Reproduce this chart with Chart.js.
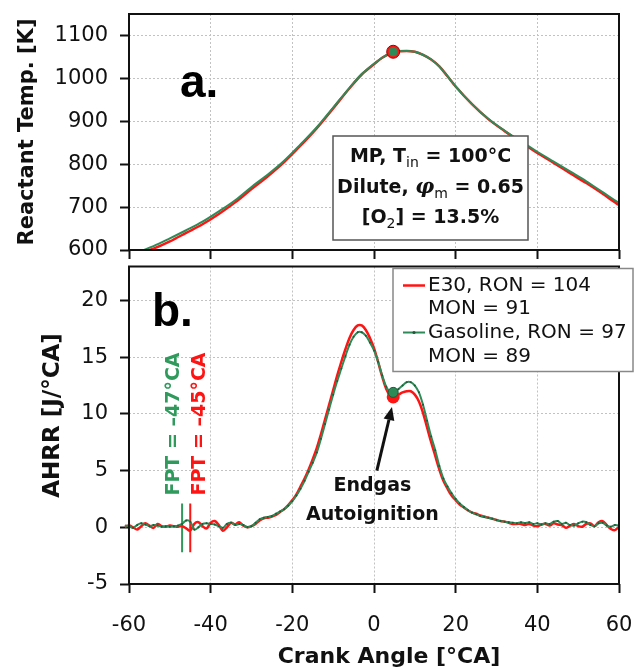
<!DOCTYPE html>
<html>
<head>
<meta charset="utf-8">
<script src="https://cdn.jsdelivr.net/npm/chart.js@4.4.1/dist/chart.umd.min.js"></script>
<style>
  html, body { margin: 0; padding: 0; background: #fff; }
  #wrap { position: relative; width: 640px; height: 671px; }
  .panel { position: absolute; left: 0; width: 640px; }
  #top { top: 0; height: 260px; }
  #bot { top: 260px; height: 411px; }
</style>
</head>
<body>
<div id="wrap">
  <div class="panel" id="top"><canvas id="tempChart" width="640" height="260"></canvas></div>
  <div class="panel" id="bot"><canvas id="ahrrChart" width="640" height="411"></canvas></div>
</div>
<script>
// Values (crank angle in °CA)

// a. reactant temperature [K]
const tempCA = [-57, -54, -50, -46, -42, -38, -34, -30, -26, -22,
  -18, -14, -10, -6, -3, 0, 2, 4, 6, 8,
  10, 12, 14, 16, 18, 20, 24, 28, 32, 36,
  40, 44, 48, 52, 56, 60, 61];
const tempE30 = [593, 603, 620, 640, 660, 684, 711, 742, 772, 805,
  843, 884, 930, 977, 1009, 1033, 1048, 1058, 1063, 1064,
  1062, 1055, 1044, 1028, 1005, 981, 940, 905, 877, 851,
  826, 803, 779, 756, 731, 705, 700];
const tempGas = [598, 609, 627, 646, 666, 690, 716, 747, 776, 808,
  846, 886, 932, 978, 1010, 1034, 1048, 1058, 1063, 1064,
  1062, 1055, 1044, 1028, 1005, 981, 940, 906, 878, 853,
  829, 806, 783, 760, 735, 710, 705];

// b. apparent heat release rate [J/°CA]
const ahrrCA = [-61,
  -60, -59, -58, -57, -56, -55, -54, -53, -52, -51,
  -50, -49, -48, -47, -46, -45, -44, -43, -42, -41,
  -40, -39, -38, -37, -36, -35, -34, -33, -32, -31,
  -30, -29, -28, -27, -26, -25, -24, -23, -22, -21,
  -20, -19, -18, -17, -16, -15, -14, -13, -12, -11,
  -10, -9, -8, -7, -6, -5, -4, -3, -2, -1,
  0, 1, 2, 3, 4, 5, 6, 7, 8, 9,
  10, 11, 12, 13, 14, 15, 16, 17, 18, 19,
  20, 21, 22, 23, 24, 25, 26, 27, 28, 29,
  30, 31, 32, 33, 34, 35, 36, 37, 38, 39,
  40, 41, 42, 43, 44, 45, 46, 47, 48, 49,
  50, 51, 52, 53, 54, 55, 56, 57, 58, 59,
  60, 61];
const ahrrE30 = [0.05,
  0.15, 0.0, -0.2, 0.1, 0.35, 0.15, -0.05, 0.3, 0.1, 0.05,
  0.15, 0.1, 0.05, 0.1, -0.1, -0.3, 0.3, 0.45, 0.1, -0.1,
  0.4, 0.55, 0.2, -0.3, 0.0, 0.4, 0.25, 0.45, 0.15, 0.0,
  0.1, 0.3, 0.6, 0.8, 0.85, 0.95, 1.1, 1.35, 1.6, 1.95,
  2.4, 2.9, 3.6, 4.3, 5.1, 6.0, 7.0, 8.2, 9.5, 10.8,
  12.1, 13.4, 14.6, 15.7, 16.7, 17.4, 17.8, 17.8, 17.4, 16.7,
  15.8, 14.6, 13.3, 12.2, 11.6, 11.5, 11.7, 11.9, 12.0, 12.0,
  11.7, 11.1, 10.1, 8.8, 7.5, 6.3, 5.1, 4.1, 3.4, 2.8,
  2.4, 2.0, 1.75, 1.5, 1.3, 1.2, 1.05, 0.95, 0.85, 0.75,
  0.65, 0.55, 0.5, 0.4, 0.3, 0.3, 0.3, 0.2, 0.3, 0.15,
  0.1, 0.25, 0.3, 0.15, 0.35, 0.25, 0.2, -0.05, 0.15, 0.3,
  0.1, 0.05, 0.3, 0.35, 0.1, 0.45, 0.55, 0.2, -0.15, -0.25,
  0.0, -0.1];
const ahrrGas = [0.15,
  0.1, -0.05, 0.2, 0.35, 0.25, 0.1, 0.2, 0.15, 0.05, 0.1,
  0.05, 0.1, 0.15, 0.3, 0.6, 0.5, -0.2, 0.0, 0.3, 0.35,
  0.3, 0.25, 0.1, -0.05, 0.3, 0.4, 0.2, 0.3, 0.2, 0.0,
  0.1, 0.4, 0.7, 0.85, 0.9, 1.0, 1.2, 1.4, 1.6, 1.9,
  2.3, 2.8, 3.4, 4.1, 4.9, 5.7, 6.6, 7.8, 9.1, 10.4,
  11.7, 12.9, 14.0, 15.1, 16.1, 16.8, 17.2, 17.2, 16.9, 16.3,
  15.6, 14.6, 13.4, 12.4, 11.9, 11.9, 12.2, 12.5, 12.8, 12.8,
  12.5, 11.9, 10.8, 9.4, 8.0, 6.8, 5.4, 4.3, 3.6, 3.0,
  2.5, 2.1, 1.8, 1.5, 1.3, 1.15, 1.0, 0.9, 0.85, 0.75,
  0.65, 0.55, 0.5, 0.45, 0.4, 0.35, 0.45, 0.35, 0.45, 0.3,
  0.35, 0.25, 0.35, 0.3, 0.5, 0.55, 0.3, 0.4, 0.2, 0.15,
  0.35, 0.5, 0.45, 0.2, 0.1, 0.35, 0.4, 0.15, 0.05, 0.2,
  0.15, 0.25];

// markers: peak temperature and endgas autoignition point
const peakCA = [4.7];
const peakTempE30 = [1062];
const peakTempGas = [1062];
const endgasCA = [4.7];
const endgasE30 = [11.5];
const endgasGas = [11.9];

// first phenomenological timing (FPT) bars: [E30, gasoline]
const fptCA = [-45, -47];
const fptSpan = [-2.2, 2.1];

const legendE30 = ['E30, RON = 104', 'MON = 91'];
const legendGas = ['Gasoline, RON = 97', 'MON = 89'];

const RED = '#ff1414';
const GREEN = '#2e8b57';
const GREEN_TXT = '#2f9a5c';
const FONT = '"DejaVu Sans", sans-serif';

const pts = (xs, ys) => xs.map((x, i) => ({ x: x, y: ys[i] }));

// shared axis styling
const gridOpts = {
  color: '#c2c2c2',
  lineWidth: 1,
  tickColor: '#111',
  tickWidth: 2,
  tickLength: 9,
  tickBorderDash: []
};
const borderOpts = { display: false, dash: [2, 2] };
const tickFont = { family: FONT, size: 21 };
const titleFont = { family: FONT, size: 21, weight: 'bold' };

// fixed axis boxes so the plot areas land where the reference has them
const fitY = (s) => { s.width = 129; s.paddingTop = 0; s.paddingBottom = 0; };
const fitX = (h) => (s) => { s.height = h; s.paddingLeft = 0; s.paddingRight = 0; };

// Helper: draw a line of text with sub/italic pieces, centred on cx
const drawRich = (ctx, parts, cx, y) => {
  const fonts = {
    n: `bold 19px ${FONT}`,
    sub: `14px ${FONT}`,
    it: 'italic bold 21px "DejaVu Serif", serif'
  };
  let total = 0;
  parts.forEach(([t, k]) => { ctx.font = fonts[k]; total += ctx.measureText(t).width; });
  let x = cx - total / 2;
  parts.forEach(([t, k]) => {
    ctx.font = fonts[k];
    ctx.fillText(t, x, k === 'sub' ? y + 5 : y);
    x += ctx.measureText(t).width;
  });
};

const drawFrame = (chart) => {
  const { ctx, chartArea: a } = chart;
  ctx.save();
  ctx.strokeStyle = '#111';
  ctx.lineWidth = 2;
  ctx.strokeRect(a.left, a.top, a.right - a.left, a.bottom - a.top);
  ctx.restore();
};

const arrow = (ctx, x1, y1, x2, y2) => {
  const ang = Math.atan2(y2 - y1, x2 - x1);
  const head = 13, half = 5.5;
  const bx = x2 - head * Math.cos(ang), by = y2 - head * Math.sin(ang);
  ctx.beginPath();
  ctx.moveTo(x1, y1);
  ctx.lineTo(bx, by);
  ctx.lineWidth = 3;
  ctx.stroke();
  ctx.beginPath();
  ctx.moveTo(x2, y2);
  ctx.lineTo(bx + half * Math.sin(ang), by - half * Math.cos(ang));
  ctx.lineTo(bx - half * Math.sin(ang), by + half * Math.cos(ang));
  ctx.closePath();
  ctx.fill();
};

// Top panel annotations: frame, "a." and the operating condition box
const tempNotes = {
  id: 'tempNotes',
  afterDatasetsDraw(chart) {
    drawFrame(chart);
  },
  afterDraw(chart) {
    const { ctx, chartArea: a } = chart;
    ctx.save();
    ctx.fillStyle = '#000';
    ctx.textAlign = 'left';
    ctx.textBaseline = 'alphabetic';
    ctx.font = 'bold 46px "Liberation Sans", Arial, sans-serif';
    ctx.fillText('a.', a.left + 51, a.top + 83);

    const bx = a.left + 204, by = a.top + 122, bw = 195, bh = 104;
    ctx.fillStyle = '#fff';
    ctx.fillRect(bx, by, bw, bh);
    ctx.strokeStyle = '#555';
    ctx.lineWidth = 1.5;
    ctx.strokeRect(bx, by, bw, bh);
    ctx.fillStyle = '#111';
    const cx = bx + bw / 2;
    drawRich(ctx, [['MP, T', 'n'], ['in', 'sub'], [' = 100°C', 'n']], cx, by + 26);
    drawRich(ctx, [['Dilute, ', 'n'], ['φ', 'it'], ['m', 'sub'], [' = 0.65', 'n']], cx, by + 57);
    drawRich(ctx, [['[O', 'n'], ['2', 'sub'], ['] = 13.5%', 'n']], cx, by + 87);
    ctx.restore();
  }
};

// Bottom panel annotations: frame, "b.", FPT labels, arrow, axis titles, legend
const ahrrNotes = {
  id: 'ahrrNotes',
  afterDatasetsDraw(chart) {
    drawFrame(chart);
    const { ctx, chartArea: a, scales: { x, y } } = chart;
    ctx.save();
    ctx.fillStyle = '#000';
    ctx.textBaseline = 'alphabetic';
    ctx.textAlign = 'left';
    ctx.font = 'bold 46px "Liberation Sans", Arial, sans-serif';
    ctx.fillText('b.', a.left + 23, a.top + 59);

    // FPT labels, rotated
    ctx.font = `bold 19px ${FONT}`;
    ctx.textBaseline = 'middle';
    const fptLabel = (ca, dx, color) => {
      ctx.save();
      ctx.translate(x.getPixelForValue(ca) + dx, y.getPixelForValue(2.8));
      ctx.rotate(-Math.PI / 2);
      ctx.fillStyle = color;
      ctx.fillText(`FPT = –${Math.abs(ca)}°CA`, 0, 0);
      ctx.restore();
    };
    fptLabel(fptCA[1], -8, GREEN_TXT);
    fptLabel(fptCA[0], 10, RED);

    // Endgas autoignition label and arrow
    ctx.fillStyle = '#111';
    ctx.strokeStyle = '#111';
    ctx.textAlign = 'center';
    ctx.fillText('Endgas', x.getPixelForValue(-0.4), y.getPixelForValue(3.65));
    ctx.fillText('Autoignition', x.getPixelForValue(-0.4), y.getPixelForValue(1.1));
    arrow(ctx, x.getPixelForValue(0.7), y.getPixelForValue(5.0),
      x.getPixelForValue(4.4), y.getPixelForValue(10.6));
    ctx.restore();
  },
  afterDraw(chart) {
    const { ctx, chartArea: a } = chart;

    // axis titles (sit slightly off-centre in the reference)
    ctx.save();
    ctx.fillStyle = '#111';
    ctx.textAlign = 'center';
    ctx.textBaseline = 'middle';
    ctx.font = `bold 22px ${FONT}`;
    ctx.fillText('Crank Angle [°CA]', a.left + 260, a.bottom + 73);
    ctx.translate(53, a.top + 149);
    ctx.rotate(-Math.PI / 2);
    ctx.font = `bold 23px ${FONT}`;
    ctx.fillText('AHRR [J/°CA]', 0, 0);
    ctx.restore();

    const bx = a.left + 264, by = a.top + 2, bw = 240, bh = 103;
    ctx.save();
    ctx.fillStyle = '#fff';
    ctx.fillRect(bx, by, bw, bh);
    ctx.strokeStyle = '#888';
    ctx.lineWidth = 1.5;
    ctx.strokeRect(bx, by, bw, bh);

    ctx.font = `20px ${FONT}`;
    ctx.fillStyle = '#111';
    ctx.textAlign = 'left';
    ctx.textBaseline = 'middle';
    const rows = [legendE30[0], legendE30[1], legendGas[0], legendGas[1]];
    const rowY = [17, 40, 64, 88];
    rows.forEach((t, i) => ctx.fillText(t, bx + 35, by + rowY[i]));

    ctx.lineWidth = 2.5;
    ctx.strokeStyle = RED;
    ctx.beginPath();
    ctx.moveTo(bx + 10, by + rowY[0]);
    ctx.lineTo(bx + 32, by + rowY[0]);
    ctx.stroke();
    ctx.lineWidth = 2;
    ctx.strokeStyle = GREEN;
    ctx.beginPath();
    ctx.moveTo(bx + 10, by + rowY[2]);
    ctx.lineTo(bx + 32, by + rowY[2]);
    ctx.stroke();
    ctx.fillStyle = '#1e5a38';
    ctx.beginPath();
    ctx.arc(bx + 21, by + rowY[2], 1.6, 0, Math.PI * 2);
    ctx.fill();
    ctx.restore();
  }
};

const curveClip = { left: 8, right: 8, top: 0, bottom: 0 };
const plainNum = (v) => String(v);

// ---- a. reactant temperature ----
new Chart(document.getElementById('tempChart'), {
  type: 'line',
  data: {
    datasets: [
      { label: 'peak gasoline', data: pts(peakCA, peakTempGas), showLine: false,
        pointRadius: 4.5, pointBackgroundColor: GREEN, pointBorderWidth: 0, order: 0 },
      { label: 'peak E30', data: pts(peakCA, peakTempE30), showLine: false,
        pointRadius: 6.5, pointBackgroundColor: RED, pointBorderColor: '#a00000',
        pointBorderWidth: 1, order: 1 },
      { label: 'Gasoline', data: pts(tempCA, tempGas), borderColor: GREEN, borderWidth: 2,
        pointRadius: 0, cubicInterpolationMode: 'monotone', clip: curveClip, order: 2 },
      { label: 'E30', data: pts(tempCA, tempE30), borderColor: RED, borderWidth: 2.5,
        pointRadius: 0, cubicInterpolationMode: 'monotone', clip: curveClip, order: 3 }
    ]
  },
  options: {
    responsive: false,
    animation: false,
    layout: { padding: { top: 14, right: 21, left: 0, bottom: 0 } },
    plugins: { legend: { display: false }, tooltip: { enabled: false } },
    scales: {
      x: {
        type: 'linear', min: -60, max: 60,
        ticks: { stepSize: 20, display: false },
        grid: gridOpts, border: borderOpts,
        afterFit: fitX(10)
      },
      y: {
        min: 600, max: 1150,
        ticks: { stepSize: 100, includeBounds: false, font: tickFont, color: '#111',
          padding: 12, callback: plainNum },
        grid: gridOpts, border: borderOpts,
        title: { display: true, text: 'Reactant Temp. [K]', font: titleFont, color: '#111',
          padding: { top: 15, bottom: 0 } },
        afterFit: fitY
      }
    }
  },
  plugins: [tempNotes]
});

// ---- b. AHRR ----
new Chart(document.getElementById('ahrrChart'), {
  type: 'line',
  data: {
    datasets: [
      { label: 'endgas gasoline', data: pts(endgasCA, endgasGas), showLine: false,
        pointRadius: 5, pointBackgroundColor: GREEN, pointBorderColor: '#1e5a38',
        pointBorderWidth: 1, order: 0 },
      { label: 'endgas E30', data: pts(endgasCA, endgasE30), showLine: false,
        pointRadius: 6.5, pointBackgroundColor: RED, pointBorderWidth: 0, order: 1 },
      { label: 'Gasoline', data: pts(ahrrCA, ahrrGas), borderColor: GREEN, borderWidth: 2,
        pointRadius: 1, pointBackgroundColor: '#1e5a38', pointBorderWidth: 0,
        tension: 0.35, clip: curveClip, order: 2 },
      { label: 'E30', data: pts(ahrrCA, ahrrE30), borderColor: RED, borderWidth: 2.5,
        pointRadius: 0, tension: 0.35, clip: curveClip, order: 3 },
      { label: 'FPT gasoline', data: pts([fptCA[1], fptCA[1]], fptSpan), borderColor: GREEN_TXT,
        borderWidth: 2, pointRadius: 0, order: 4 },
      { label: 'FPT E30', data: pts([fptCA[0], fptCA[0]], fptSpan), borderColor: RED,
        borderWidth: 2, pointRadius: 0, order: 5 }
    ]
  },
  options: {
    responsive: false,
    animation: false,
    layout: { padding: { top: 3, right: 21, left: 0, bottom: 0 } },
    plugins: { legend: { display: false }, tooltip: { enabled: false } },
    scales: {
      x: {
        type: 'linear', min: -60, max: 60,
        ticks: { stepSize: 20, font: tickFont, color: '#111', padding: 20 },
        grid: gridOpts, border: borderOpts,
        afterFit: fitX(87)
      },
      y: {
        min: -5, max: 23,
        ticks: { stepSize: 5, includeBounds: false, font: tickFont, color: '#111', padding: 12 },
        grid: gridOpts, border: borderOpts,
        afterFit: fitY
      }
    }
  },
  plugins: [ahrrNotes]
});
</script>
</body>
</html>
